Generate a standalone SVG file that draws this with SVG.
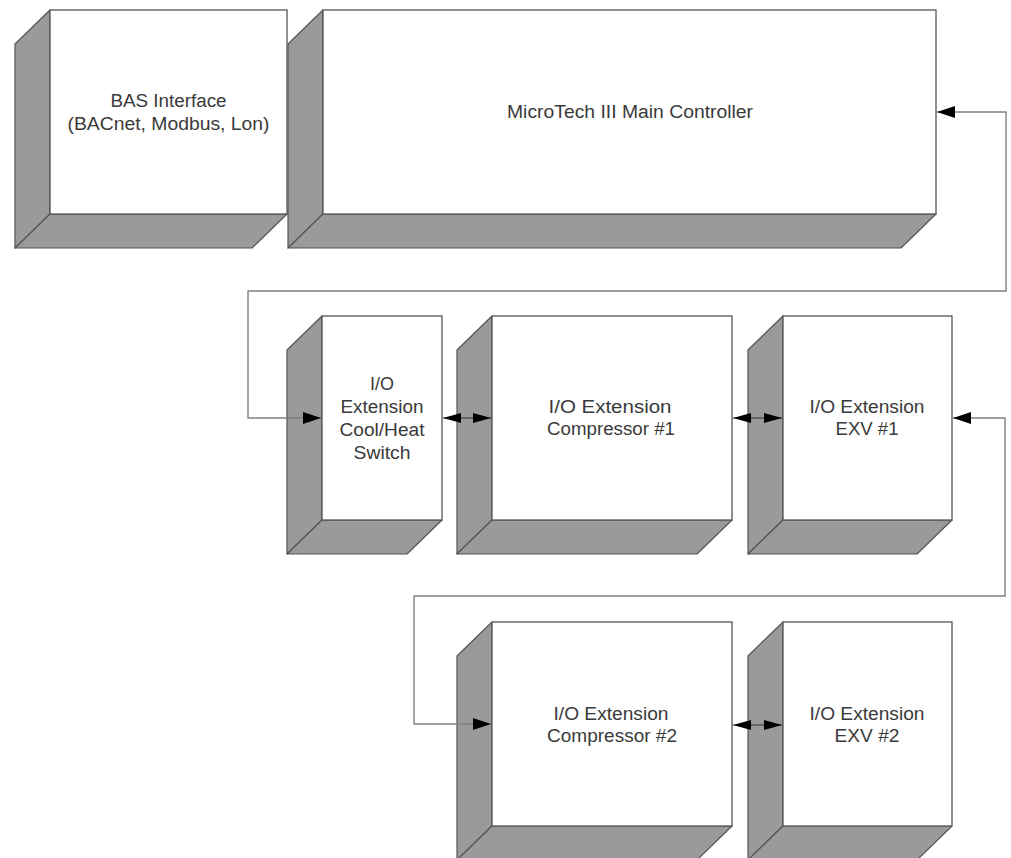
<svg xmlns="http://www.w3.org/2000/svg" width="1011" height="858" viewBox="0 0 1011 858">
<style>
.face{fill:#ffffff;stroke:#555555;stroke-width:1.3}
.side{fill:#9a9a9a;stroke:#555555;stroke-width:1.2;stroke-linejoin:round}
.lbl{font-family:"Liberation Sans",Arial,sans-serif;font-size:18px;fill:#3a3a3a;text-anchor:middle}
.conn{fill:none;stroke:#808080;stroke-width:1.4}
.dbl{fill:none;stroke:#333333;stroke-width:1.2}
</style>
<defs>
<marker id="ah" viewBox="0 0 18 12" markerWidth="18" markerHeight="12" refX="18" refY="6" orient="auto-start-reverse" markerUnits="userSpaceOnUse">
<path d="M0,0 L18,6 L0,12 z" fill="#000000"/>
</marker>
<marker id="ahs" viewBox="0 0 18 10" markerWidth="18" markerHeight="10" refX="18" refY="5" orient="auto-start-reverse" markerUnits="userSpaceOnUse">
<path d="M0,0 L18,5 L0,10 z" fill="#000000"/>
</marker>
</defs>
<rect width="1011" height="858" fill="#ffffff"/>

<g id="bas">
<polygon class="side" points="50,10 15,44 15,248 50,214"/>
<polygon class="side" points="50,214 287,214 252,248 15,248"/>
<rect class="face" x="50" y="10" width="237" height="204"/>
<text class="lbl" x="168.5" y="107" textLength="116" lengthAdjust="spacingAndGlyphs">BAS Interface</text>
<text class="lbl" x="168.5" y="130" textLength="202" lengthAdjust="spacingAndGlyphs">(BACnet, Modbus, Lon)</text>
</g>

<g id="main">
<polygon class="side" points="323,10 288,44 288,248 323,214"/>
<polygon class="side" points="323,214 936,214 901,248 288,248"/>
<rect class="face" x="323" y="10" width="613" height="204"/>
<text class="lbl" x="630" y="118" textLength="246" lengthAdjust="spacingAndGlyphs">MicroTech III Main Controller</text>
</g>

<g id="coolheat">
<polygon class="side" points="322,316 287,350 287,554 322,520"/>
<polygon class="side" points="322,520 442,520 407,554 287,554"/>
<rect class="face" x="322" y="316" width="120" height="204"/>
<text class="lbl" x="382" y="390" textLength="24" lengthAdjust="spacingAndGlyphs">I/O</text>
<text class="lbl" x="382" y="413" textLength="83" lengthAdjust="spacingAndGlyphs">Extension</text>
<text class="lbl" x="382" y="436" textLength="85" lengthAdjust="spacingAndGlyphs">Cool/Heat</text>
<text class="lbl" x="382" y="459" textLength="57" lengthAdjust="spacingAndGlyphs">Switch</text>
</g>

<g id="comp1">
<polygon class="side" points="492,316 457,350 457,554 492,520"/>
<polygon class="side" points="492,520 732,520 697,554 457,554"/>
<rect class="face" x="492" y="316" width="240" height="204"/>
<text class="lbl" x="610" y="413" textLength="123" lengthAdjust="spacingAndGlyphs">I/O Extension</text>
<text class="lbl" x="611" y="435" textLength="128" lengthAdjust="spacingAndGlyphs">Compressor #1</text>
</g>

<g id="exv1">
<polygon class="side" points="783,316 748,350 748,554 783,520"/>
<polygon class="side" points="783,520 952,520 917,554 748,554"/>
<rect class="face" x="783" y="316" width="169" height="204"/>
<text class="lbl" x="867" y="413" textLength="115" lengthAdjust="spacingAndGlyphs">I/O Extension</text>
<text class="lbl" x="867" y="435" textLength="63" lengthAdjust="spacingAndGlyphs">EXV #1</text>
</g>

<g id="comp2">
<polygon class="side" points="492,622 457,656 457,860 492,826"/>
<polygon class="side" points="492,826 732,826 697,860 457,860"/>
<rect class="face" x="492" y="622" width="240" height="204"/>
<text class="lbl" x="611" y="720" textLength="115" lengthAdjust="spacingAndGlyphs">I/O Extension</text>
<text class="lbl" x="612" y="742" textLength="130" lengthAdjust="spacingAndGlyphs">Compressor #2</text>
</g>

<g id="exv2">
<polygon class="side" points="783,622 748,656 748,860 783,826"/>
<polygon class="side" points="783,826 952,826 917,860 748,860"/>
<rect class="face" x="783" y="622" width="169" height="204"/>
<text class="lbl" x="867" y="720" textLength="115" lengthAdjust="spacingAndGlyphs">I/O Extension</text>
<text class="lbl" x="867" y="742" textLength="65" lengthAdjust="spacingAndGlyphs">EXV #2</text>
</g>

<g id="connectors">
<path class="conn" d="M937,112 H1006 V291 H248 V418 H321" marker-start="url(#ah)" marker-end="url(#ah)"/>
<path class="conn" d="M953,418 H1005 V596 H414 V724 H491" marker-start="url(#ah)" marker-end="url(#ah)"/>
<path class="dbl" d="M443,418 H491" marker-start="url(#ahs)" marker-end="url(#ahs)"/>
<path class="dbl" d="M733,418 H782" marker-start="url(#ahs)" marker-end="url(#ahs)"/>
<path class="dbl" d="M733,725 H782" marker-start="url(#ahs)" marker-end="url(#ahs)"/>
</g>
</svg>
